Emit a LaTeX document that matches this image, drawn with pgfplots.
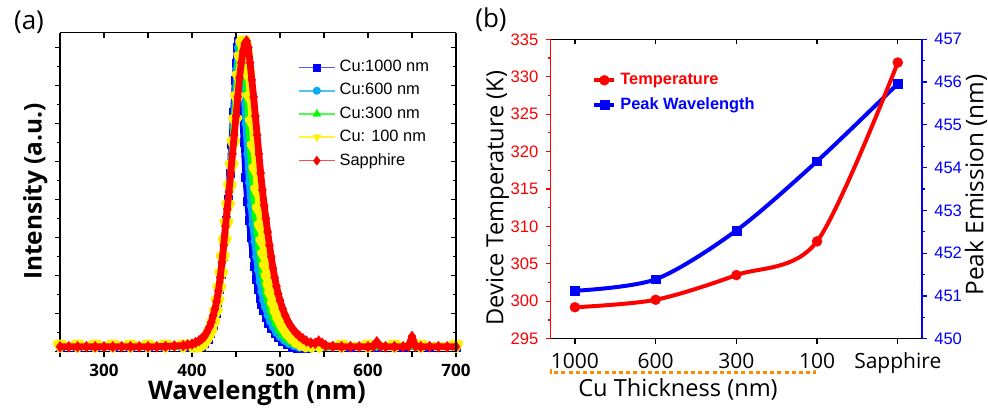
\documentclass[border=0pt]{standalone}
\usepackage{fontspec}
\setmainfont{Open Sans}
\newfontfamily\arialfont{Liberation Sans}
\usepackage{pgfplots}
\pgfplotsset{compat=1.18}
\definecolor{bracketorange}{RGB}{255,140,0}

\pgfplotsset{
  origin base/.style={
    scale only axis,
    axis line style={line width=0.6pt},
    every tick/.style={black, line width=0.6pt},
    major tick length=2.6pt,
    minor tick length=1.5pt,
    /pgf/number format/assume math mode=true,
  },
  spec/.style={forget plot, line width=3.2pt, line join=round,
    mark options={line width=0.2pt}},
}

\begin{document}
\begin{tikzpicture}[x=1pt,y=1pt]
\useasboundingbox (0,0) rectangle (494,204);

% ---------------- panel (a): spectra ----------------
\begin{axis}[
  origin base,
  clip mode=individual,
  at={(30pt,28.15pt)}, anchor=south west,
  width=198pt, height=159.5pt,
  xmin=250, xmax=700, ymin=0, ymax=8.39,
  axis x line*=bottom, axis y line*=left,
  tick align=outside,
  xtick={250,300,...,700},
  xticklabels={,300,,400,,500,,600,,700},
  ytick={0,1,...,8}, yticklabels={},
  minor ytick={0.5,1.5,...,7.5},
  xticklabel style={font=\bfseries\fontsize{8.5}{10}\selectfont},
  legend style={at={(0.585,0.94)}, anchor=north west, draw=none, fill=none,
    font=\arialfont\fontsize{8.2}{9}\selectfont, row sep=0.4pt},
  legend cell align=left,
  legend image code/.code={\draw[mark repeat=2,mark phase=2,#1]
    plot coordinates {(0pt,0pt) (9pt,0pt) (18pt,0pt)};},
]
\addlegendimage{blue!65, line width=0.8pt, mark=square*, mark size=1.8pt, mark options={blue, line width=0.2pt}}
\addlegendentry{Cu:1000 nm}
\addlegendimage{cyan!70, line width=0.8pt, mark=*, mark size=1.9pt, mark options={cyan, line width=0.2pt}}
\addlegendentry{Cu:600 nm}
\addlegendimage{green!70, line width=0.8pt, mark=triangle*, mark size=2.3pt, mark options={green, line width=0.2pt}}
\addlegendentry{Cu:300 nm}
\addlegendimage{yellow!80, line width=0.8pt, mark=triangle*, mark size=2.3pt, mark options={yellow, rotate=180, line width=0.2pt}}
\addlegendentry{Cu: 100 nm}
\addlegendimage{red!70, line width=0.8pt, mark=diamond*, mark size=2.3pt, mark options={red, line width=0.2pt}}
\addlegendentry{Sapphire}

% Cu:1000 nm
\addplot[spec, blue, mark=square*, mark size=2pt] coordinates {
(250,0.13) (270,0.13) (290,0.13) (310,0.13) (330,0.13) (350,0.13) (370,0.13) (390,0.13)
(400,0.13) (406,0.13) (410,0.15) (414,0.22) (418,0.33) (421,0.48) (424,0.7)
(427,1.0) (429,1.3) (431,1.65) (433,2.05) (435,2.5) (437,2.95) (439,3.45)
(441,4.0) (443,4.7) (445,5.45) (447,6.3) (449,7.15) (450,7.6) (451,8.0)
(452,8.17) (453,8.0) (454,7.7) (455,7.3) (457,6.4) (459,5.5) (461,4.6)
(463,3.95) (465,3.45) (467,3.0) (469,2.6) (471,2.25) (473,1.92) (475,1.65)
(477,1.42) (479,1.24) (481,1.08) (484,0.9) (487,0.74) (490,0.62) (494,0.48)
(498,0.37) (503,0.27) (508,0.19) (514,0.13) (520,0.1) (530,0.09) (545,0.12)
(580,0.13) (610,0.13) (640,0.13) (670,0.13) (700,0.13)
};
% Cu:600 nm
\addplot[spec, cyan, mark=*, mark size=2pt] coordinates {
(250,0.13) (270,0.13) (290,0.13) (310,0.13) (330,0.13) (350,0.13) (370,0.13) (390,0.13)
(400,0.13) (406,0.13) (410,0.16) (414,0.23) (418,0.35) (421,0.5) (424,0.72)
(427,1.02) (429,1.3) (431,1.65) (433,2.05) (435,2.5) (437,2.95) (439,3.45)
(441,3.95) (443,4.55) (445,5.2) (447,5.9) (449,6.7) (451,7.45) (452.5,8.0)
(454,8.17) (455.5,7.95) (457,7.5) (459,6.8) (461,6.0) (463,5.2) (465,4.45)
(467,3.85) (469,3.35) (471,2.9) (473,2.5) (475,2.15) (477,1.85) (479,1.58)
(481,1.36) (483,1.18) (486,0.96) (489,0.79) (492,0.65) (496,0.5) (500,0.39)
(505,0.29) (510,0.21) (516,0.15) (522,0.11) (532,0.1) (548,0.12) (580,0.13)
(610,0.13) (640,0.13) (670,0.13) (700,0.13)
};
% Cu:300 nm
\addplot[spec, green, mark=triangle*, mark size=2.3pt] coordinates {
(250,0.13) (270,0.13) (290,0.13) (310,0.13) (330,0.13) (350,0.13) (370,0.13) (390,0.13)
(400,0.13) (406,0.13) (410,0.17) (414,0.24) (418,0.37) (421,0.52) (424,0.74)
(427,1.04) (429,1.32) (431,1.66) (433,2.05) (435,2.5) (437,2.95) (439,3.4)
(441,3.9) (443,4.45) (445,5.05) (447,5.7) (449,6.35) (451,7.0) (453,7.6)
(455,8.05) (456.5,8.17) (458,8.0) (460,7.6) (462,6.95) (464,6.2) (466,5.45)
(468,4.75) (470,4.15) (472,3.6) (474,3.15) (476,2.75) (478,2.4) (480,2.08)
(482,1.8) (484,1.56) (486,1.36) (489,1.1) (492,0.9) (495,0.74) (499,0.57)
(503,0.44) (508,0.32) (513,0.24) (519,0.17) (525,0.13) (532,0.11) (550,0.12)
(570,0.13) (600,0.13) (630,0.13) (646,0.13) (650,0.26) (654,0.13) (670,0.13) (700,0.13)
};
% Cu: 100 nm
\addplot[spec, yellow, mark=triangle*, mark size=2.3pt, mark options={rotate=180}] coordinates {
(250,0.17) (270,0.17) (290,0.17) (310,0.17) (330,0.17) (350,0.17) (370,0.17) (390,0.17)
(400,0.17) (406,0.17) (410,0.19) (414,0.25) (418,0.38) (421,0.53) (424,0.75)
(427,1.05) (429,1.33) (431,1.67) (433,2.05) (435,2.48) (437,2.92) (439,3.38)
(441,3.85) (443,4.35) (445,4.9) (447,5.5) (449,6.1) (451,6.7) (453,7.25)
(455,7.75) (457,8.1) (458.5,8.17) (460,8.05) (462,7.75) (464,7.3) (466,6.7)
(468,6.05) (470,5.4) (472,4.8) (474,4.25) (476,3.75) (478,3.3) (480,2.9)
(482,2.55) (484,2.24) (486,1.96) (488,1.72) (490,1.51) (493,1.24) (496,1.02)
(499,0.85) (503,0.67) (507,0.53) (512,0.4) (517,0.3) (523,0.22) (529,0.18)
(536,0.17) (545,0.17) (570,0.17) (600,0.17) (630,0.17) (660,0.17) (700,0.17)
};
% Sapphire
\addplot[spec, red, line width=3.4pt, mark=diamond*, mark size=2.7pt] coordinates {
(250,0.13) (260,0.13) (270,0.13) (280,0.13) (290,0.13) (300,0.13) (310,0.13)
(320,0.13) (330,0.13) (340,0.13) (350,0.13) (360,0.13) (370,0.14) (380,0.15)
(390,0.16) (395,0.18) (400,0.2) (404,0.24) (408,0.29) (411,0.34) (414,0.4)
(417,0.52) (420,0.66) (422,0.78) (424,0.95) (426,1.12) (428,1.32) (430,1.6)
(432,1.95) (434,2.35) (436,2.8) (438,3.3) (440,3.75) (442,4.2) (444,4.7)
(446,5.2) (448,5.7) (450,6.2) (452,6.7) (454,7.2) (456,7.6) (458,7.9)
(460,8.1) (462,8.17) (464,8.0) (466,7.6) (468,7.15) (470,6.7) (472,6.2)
(474,5.7) (476,5.2) (478,4.7) (480,4.25) (482,3.85) (484,3.5) (486,3.15)
(488,2.8) (490,2.5) (492,2.2) (494,1.95) (496,1.72) (498,1.52) (500,1.35)
(503,1.13) (506,0.95) (509,0.8) (512,0.68) (515,0.58) (518,0.5) (522,0.41)
(526,0.34) (530,0.28) (535,0.23) (540,0.22) (544,0.28) (548,0.22) (552,0.16)
(560,0.14) (570,0.13) (580,0.13) (590,0.13) (600,0.13) (606,0.14) (610,0.26)
(614,0.14) (620,0.13) (630,0.13) (640,0.13) (646,0.14) (650,0.4) (654,0.14)
(660,0.13) (670,0.13) (680,0.13) (690,0.13) (700,0.13)
};
\end{axis}
\begin{axis}[
  origin base,
  at={(30pt,28.15pt)}, anchor=south west,
  width=198pt, height=159.5pt,
  xmin=250, xmax=700, ymin=0, ymax=8.39,
  axis x line*=top, axis y line*=right,
  tick align=inside,
  xtick={250,300,...,700}, xticklabels={},
  ytick={0,1,...,8}, yticklabels={},
  minor ytick={0.5,1.5,...,7.5},
]
\end{axis}

% ---------------- panel (b): temperature / peak ----------------
\begin{axis}[
  origin base,
  at={(275.35pt,34.65pt)}, anchor=south west,
  width=185.65pt, height=149.7pt,
  xmin=-0.3, xmax=4.3, ymin=450, ymax=457,
  axis x line=none, axis y line*=right,
  tick align=outside,
  y axis line style={blue},
  ytick={450,451,...,457}, minor ytick={450.5,451.5,...,456.5},
  ytick style={blue, line width=0.6pt},
  yticklabel style={blue, font=\arialfont\fontsize{8.3}{10}\selectfont},
]
\addplot[blue, line width=2pt, smooth, mark=square*, mark size=2.2pt, mark options={line width=0.2pt}] coordinates {
(0,451.12) (1,451.39) (2,452.53) (3,454.15) (4,455.96)
};
\end{axis}
\begin{axis}[
  origin base,
  at={(275.35pt,34.65pt)}, anchor=south west,
  width=185.65pt, height=149.7pt,
  xmin=-0.3, xmax=4.3, ymin=295, ymax=335,
  axis x line*=bottom, axis y line*=left,
  tick align=outside,
  y axis line style={red},
  xtick={0,1,2,3,4},
  xticklabels={1000,600,300,100,Sapphire},
  xticklabel style={font=\fontsize{10.5}{12}\selectfont, yshift=-1pt},
  ytick={295,300,...,335}, minor ytick={297.5,302.5,...,332.5},
  ytick style={red, line width=0.6pt},
  yticklabel style={red, font=\arialfont\fontsize{8.3}{10}\selectfont},
  legend style={at={(0.095,0.915)}, anchor=north west, draw=none, fill=none,
    font=\arialfont\bfseries\fontsize{8.2}{9}\selectfont, row sep=1pt},
  legend cell align=left,
  legend image code/.code={\draw[mark repeat=2,mark phase=2,#1]
    plot coordinates {(0pt,0pt) (5pt,0pt) (10pt,0pt)};},
]
\addplot[red, line width=2pt, smooth, mark=*, mark size=2.5pt, mark options={line width=0.2pt}] coordinates {
(0,299.2) (1,300.2) (2,303.5) (3,308.0) (4,331.9)
};
\addlegendentry{\textcolor{red}{Temperature}}
\addlegendimage{blue, line width=2pt, mark=square*, mark size=2.2pt, mark options={line width=0.2pt}}
\addlegendentry{\textcolor{blue}{Peak Wavelength}}
\end{axis}
\begin{axis}[
  origin base,
  at={(275.35pt,34.65pt)}, anchor=south west,
  width=185.65pt, height=149.7pt,
  xmin=-0.3, xmax=4.3, ymin=0, ymax=1,
  axis x line*=top, axis y line=none,
  tick align=inside,
  xtick={0,1,2,3,4}, xticklabels={},
]
\end{axis}

% ---------------- labels ----------------
\node[font=\fontsize{13}{15}\selectfont] at (14.5,193) {(a)};
\node[font=\fontsize{13}{15}\selectfont] at (245.5,194) {(b)};
\node[font=\bfseries\fontsize{12.2}{14}\selectfont, rotate=90, anchor=base] at (20.8,108.2) {Intensity (a.u.)};
\node[font=\bfseries\fontsize{12.8}{15}\selectfont, anchor=base] at (128.5,4.5) {Wavelength (nm)};
\node[font=\fontsize{11.8}{14}\selectfont, rotate=90, anchor=base] at (251.7,105) {Device Temperature (K)};
\node[font=\fontsize{12.2}{14}\selectfont, rotate=90, anchor=base] at (491.7,111.5) {Peak Emission (nm)};
\node[font=\fontsize{11.8}{14}\selectfont, anchor=base] at (339,5.6) {Cu Thickness (nm)};
\draw[bracketorange, line width=1.3pt, dash pattern=on 2pt off 1.6pt]
  (275.4,19.6) -- (275.4,17.65) -- (407.5,17.65) -- (407.5,19.6);
\end{tikzpicture}
\end{document}
